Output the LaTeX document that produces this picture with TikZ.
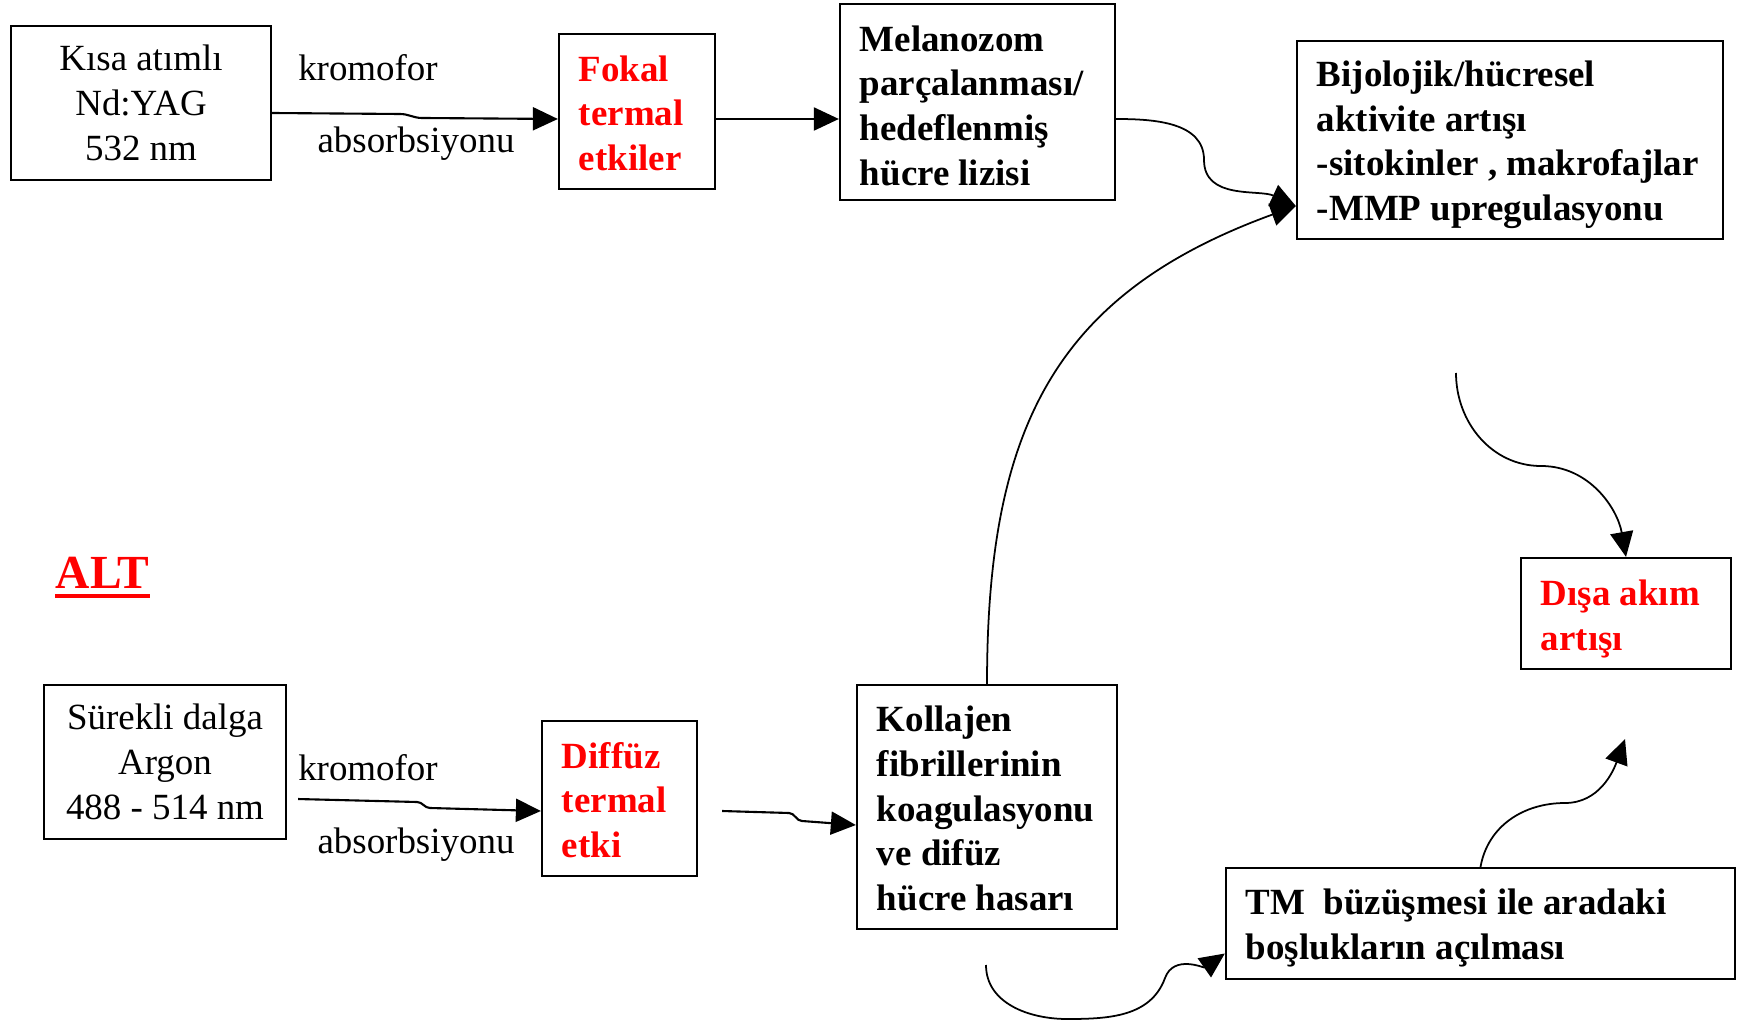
\documentclass[tikz,border=0pt]{standalone}
\usepackage{fontspec}
\setmainfont{Liberation Serif}
\usetikzlibrary{arrows.meta}

\tikzset{
  txt/.style={font=\fontsize{10.5pt}{12.7pt}\selectfont},
  plain/.style={txt, draw, line width=0.6pt, inner xsep=0.2cm, inner ysep=0pt, align=flush center},
  box/.style={plain, align=flush left, font=\fontsize{10.5pt}{12.7pt}\selectfont\bfseries},
  hot/.style={box, text=red},
  dn/.style={execute at begin node={\rule{0pt}{#1}}},
  lbl/.style={txt, inner sep=0pt, anchor=base},
  arr/.style={-{Triangle[length=0.25cm,width=0.23cm]}, line width=0.6pt},
  bendarr/.style={arr, line width=0.5pt},
}

\begin{document}
\hyphenpenalty=10000
\exhyphenpenalty=10000
\begin{tikzpicture}[x=0.01cm, y=-0.01cm]
\useasboundingbox (0,0) rectangle (1743,1022);

% upper row
\node[plain, text width=2.2cm, minimum height=1.54cm] (kisa) at (141,103) {Kısa atımlı\\Nd:YAG\\532 nm};
\node[hot, dn=0.29cm, text width=1.16cm, minimum height=1.55cm] (fokal) at (637,111.5) {Fokal\\termal\\etkiler};
\node[box, dn=0.33cm, text width=2.35cm, minimum height=1.96cm] (melanozom) at (977.5,102) {Melanozom\\parçalanması/\\hedeflenmiş\\hücre lizisi};
\node[box, dn=0.35cm, text width=3.86cm, minimum height=1.98cm] (bijolojik) at (1510,140) {Bijolojik/hücresel\\aktivite artışı\\-sitokinler~,~makrofajlar\\-MMP~upregulasyonu};
\node[hot, dn=0.37cm, text width=1.70cm, minimum height=1.11cm] (disa) at (1626,613.5) {Dışa akım\\artışı};

\node[lbl] (krom1) at (368,81) {kromofor};
\node[lbl] (abs1) at (416,153) {absorbsiyonu};

% ALT
\node[font=\fontsize{13.5pt}{16pt}\selectfont\bfseries, text=red, inner sep=0pt, anchor=base] (alt) at (102.5,589) {ALT};
\draw[red, line width=1pt] ([yshift=-0.07cm]alt.base west) -- ([yshift=-0.07cm]alt.base east);

% lower row
\node[plain, text width=2.02cm, minimum height=1.54cm] (surekli) at (165,762) {Sürekli dalga\\Argon\\488~-~514~nm};
\node[hot, dn=0.29cm, text width=1.15cm, minimum height=1.55cm] (diffuz) at (619.5,798.5) {Diffüz\\termal\\etki};
\node[box, dn=0.29cm, text width=2.20cm, minimum height=2.44cm] (kollajen) at (987,807) {Kollajen\\fibrillerinin\\koagulasyonu\\ve difüz\\hücre hasarı};
\node[box, dn=0.35cm, text width=4.69cm, minimum height=1.11cm] (tm) at (1480.5,923.5) {TM\ \ büzüşmesi ile aradaki\\boşlukların açılması};

\node[lbl] (krom2) at (368,780) {kromofor};
\node[lbl] (abs2) at (416,853) {absorbsiyonu};

% free ends
\coordinate (bstart) at (1456,373);
\coordinate (dtip) at (1625,739);
\coordinate (kstart) at (986,965);
\coordinate (btip) at ([yshift=-0.66cm]bijolojik.west);

% straight arrows
\draw[arr] ([yshift=-0.1cm]kisa.east) -- (400,114) to[out=0,in=180] (422,118) -- ([yshift=-0.075cm]fokal.west);
\draw[arr] ([yshift=-0.075cm]fokal.east) -- ([yshift=-0.075cm]fokal.east -| melanozom.west);
\draw[arr] ([xshift=0.11cm,yshift=-0.37cm]surekli.east) -- (417,802) to[out=0,in=180] (430,808) -- ([yshift=-0.125cm]diffuz.west);
\draw[arr] ([xshift=0.24cm,yshift=-0.125cm]diffuz.east) -- (789,813) to[out=0,in=180] (802,821) -- ([yshift=-0.18cm]kollajen.west);

% curved arrows
\draw[bendarr] ([yshift=-0.17cm]melanozom.east) to[out=0,in=90] (1204,160) to[out=-90,in=155] (btip);
\draw[bendarr] (kollajen.north) to[out=90,in=200,looseness=1.15] (btip);
\draw[bendarr] (bstart) to[out=-90,in=180] (1541,466) to[out=0,in=100] (disa.north);
\draw[bendarr] (tm.north) to[out=80,in=180] (1565,803) to[out=0,in=-110] (dtip);
\draw[bendarr] (kstart) to[out=-90,in=180] (1067,1019) to[out=0,in=-110] (1165,978) to[out=70,in=215] ([yshift=-0.3cm]tm.west);

\end{tikzpicture}
\end{document}
